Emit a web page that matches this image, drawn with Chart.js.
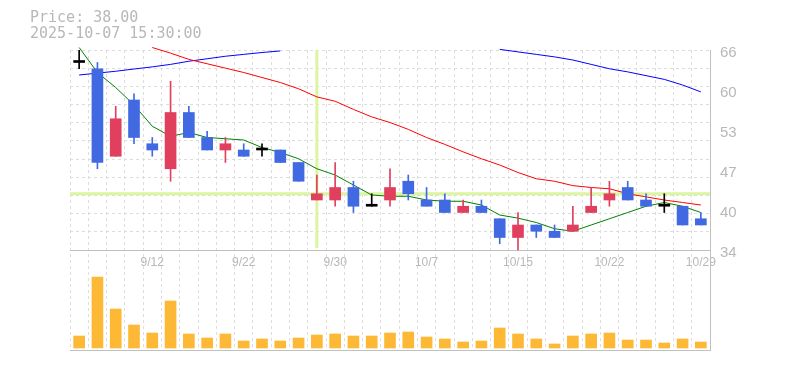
<!DOCTYPE html>
<html>
<head>
<meta charset="utf-8">
<script src="https://cdn.jsdelivr.net/npm/chart.js@4.4.1/dist/chart.umd.min.js"></script>
<style>
  html, body { margin: 0; padding: 0; background: #fff; }
</style>
</head>
<body>
<canvas id="chart" width="785" height="370"></canvas>
<script>
// ---- data ----
const DATES = ['9/8','9/9','9/10','9/11','9/12','9/16','9/17','9/18','9/19','9/22',
  '9/24','9/25','9/26','9/29','9/30','10/1','10/2','10/3','10/6','10/7',
  '10/8','10/9','10/10','10/14','10/15','10/16','10/17','10/20','10/21','10/22',
  '10/23','10/24','10/27','10/28','10/29'];
const SHOWN_DATES = ['9/12','9/22','9/30','10/7','10/15','10/22','10/29'];

const OPEN  = [64,63,49,58,51,47,56,52,50,50,50,50,48,42,42,44,41,42,45,42,42,40,41,39,36,38,37,37,40,42,44,42,41,41,39];
const HIGH  = [66,64,57,59,52,61,57,53,52,51,51,50,48,46,48,45,43,47,46,44,43,42,42,39,40,38,38,41,44,45,45,43,43,41,40];
const LOW   = [63,47,49,51,49,45,52,50,48,49,49,48,45,42,41,40,41,41,42,41,40,40,40,35,34,36,36,37,40,41,42,41,40,38,38];
const CLOSE = [64,48,55,52,50,56,52,50,51,49,50,48,45,43,44,41,41,44,43,41,40,41,40,36,38,37,36,38,41,43,42,41,41,38,38];

const MA_SHORT = [66.4,62.4,60.0,57.2,53.8,52.2,52.8,52.0,51.8,51.6,50.4,49.6,48.6,47.0,46.0,44.4,42.8,42.6,42.6,42.0,
  41.8,41.8,41.2,39.6,39.1,38.4,37.4,37.0,38.0,39.0,40.0,41.0,41.6,41.0,40.0];
const MA_MID = [null,null,null,null,66.4,65.5,64.5,63.8,63.1,62.4,61.6,60.8,59.8,58.5,57.8,56.5,55.3,54.4,53.3,52.0,
  50.9,49.7,48.6,47.6,46.4,45.4,45.0,44.3,44.0,43.8,43.0,42.5,42.0,41.6,41.2];
const MA_LONG = [62.0,62.3,62.6,62.96,63.3,63.7,64.2,64.6,65.0,65.3,65.6,65.85,null,null,null,null,null,null,null,null,
  null,null,null,66.1,65.7,65.3,64.9,64.4,63.7,63.0,62.5,61.9,61.3,60.4,59.3];

const VOLUME = [120,710,390,230,150,470,140,100,140,70,90,70,100,130,140,120,120,150,160,110,
  90,60,70,200,140,90,40,120,140,150,80,80,50,90,60];

const PRICE_TICKS = [34, 40.4, 46.8, 53.2, 59.6, 66];
const PRICE_MIN = 18, PRICE_MAX = 66;   // lower third of the axis is the volume panel
const CROSS_INDEX = 13, CROSS_PRICE = 43;

// ---- styling ----
const UP = '#e0405e', DOWN = '#4169e1', FLAT = '#000000';
const candleColor = OPEN.map((o, i) => CLOSE[i] > o ? UP : (CLOSE[i] < o ? DOWN : FLAT));
const GRID = '#dddddd', AXIS = '#c0c0c0', TEXT = '#b8b8b8';

const crosshair = {
  id: 'crosshair',
  beforeDatasetsDraw(chart) {
    const { ctx, chartArea, scales } = chart;
    const x = scales.x.getPixelForValue(CROSS_INDEX);
    const y = scales.y.getPixelForValue(CROSS_PRICE);
    const yBottom = scales.y.getPixelForValue(PRICE_TICKS[0]);
    ctx.save();
    ctx.strokeStyle = '#dcf5a0';
    ctx.lineWidth = 3;
    ctx.beginPath();
    ctx.moveTo(x, chartArea.top); ctx.lineTo(x, yBottom - 2);
    ctx.moveTo(chartArea.left, y); ctx.lineTo(chartArea.right, y);
    ctx.stroke();
    ctx.restore();
  }
};

const lineDs = (data, color) => ({
  type: 'line', data, borderColor: color, borderWidth: 1, pointRadius: 0,
  tension: 0, spanGaps: false, clip: false, yAxisID: 'y', order: 2
});

new Chart(document.getElementById('chart'), {
  type: 'bar',
  data: {
    labels: DATES,
    datasets: [
      { data: OPEN.map((o, i) => [o, CLOSE[i]]), backgroundColor: candleColor,
        barThickness: 11, minBarLength: 2, grouped: false, yAxisID: 'y', order: 0 },
      { data: LOW.map((l, i) => [l, HIGH[i]]), backgroundColor: candleColor,
        barThickness: 1, grouped: false, yAxisID: 'y', order: 1 },
      lineDs(MA_SHORT, '#008000'),
      lineDs(MA_MID, '#ff0000'),
      lineDs(MA_LONG, '#0000ff'),
      { data: VOLUME, backgroundColor: '#fdb935', barThickness: 11, grouped: false,
        yAxisID: 'yv', order: 3 }
    ]
  },
  options: {
    responsive: false,
    animation: false,
    layout: { padding: { left: 30, right: 0, top: 0, bottom: 0 } },
    plugins: {
      legend: { display: false },
      tooltip: { enabled: false },
      title: {
        display: true, align: 'start', color: TEXT,
        text: ['Price: 38.00', '2025-10-07 15:30:00'],
        font: { family: 'DejaVu Sans Mono', size: 15, weight: 'normal', lineHeight: 16 / 15 },
        padding: { top: 10, bottom: 8 }
      }
    },
    scales: {
      x: {
        type: 'category',
        position: { y: PRICE_TICKS[0] },
        offset: true,
        grid: { color: GRID, offset: true, drawTicks: false },
        border: { display: true, color: AXIS, width: 1, dash: [3, 3] },
        ticks: {
          autoSkip: false, maxRotation: 0, padding: 5, color: TEXT,
          font: { family: 'Liberation Sans', size: 12 },
          callback: (v, i) => SHOWN_DATES.includes(DATES[i]) ? DATES[i] : ''
        }
      },
      xb: {
        type: 'category', position: 'bottom',
        grid: { display: false },
        border: { display: true, color: AXIS, width: 1 },
        ticks: { display: false },
        afterFit: s => { s.height = 20; }
      },
      y: {
        type: 'linear', position: 'right', min: PRICE_MIN, max: PRICE_MAX,
        grid: { display: false, drawTicks: false },
        border: { display: true, color: AXIS, width: 1 },
        afterBuildTicks: a => { a.ticks = PRICE_TICKS.map(v => ({ value: v })); },
        ticks: {
          padding: 10, labelOffset: 3, color: TEXT,
          font: { family: 'Liberation Sans', size: 15 },
          callback: v => String(Math.round(v))
        },
        afterFit: s => { s.width = 75; }
      },
      yg: {
        type: 'linear', position: 'left', min: -5.5, max: 11,
        grid: { color: GRID, drawTicks: false },
        border: { display: false, dash: [3, 3] },
        ticks: { display: false, stepSize: 1 },
        afterBuildTicks: a => { a.ticks = a.ticks.filter(t => t.value >= 0); },
        afterFit: s => { s.width = 40; }
      },
      yv: { type: 'linear', display: false, min: -20, max: 2980 }
    }
  },
  plugins: [crosshair]
});
</script>
</body>
</html>
